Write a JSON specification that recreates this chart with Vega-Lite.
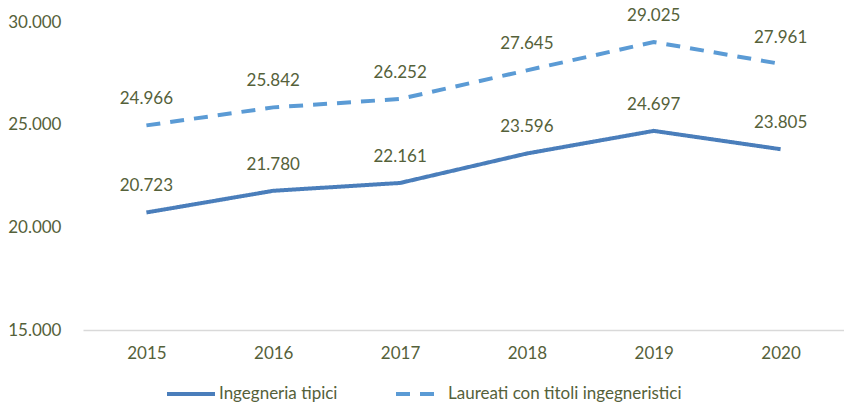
{
  "$schema": "https://vega.github.io/schema/vega-lite/v6.json",
  "width": 761,
  "height": 308,
  "autosize": {"type": "none"},
  "padding": {"left": 83, "top": 22, "right": 0, "bottom": 75},
  "background": "white",
  "config": {
    "font": "Lato",
    "view": {"stroke": null},
    "locale": {
      "number": {"decimal": ",", "thousands": ".", "grouping": [3], "currency": ["", " €"]}
    }
  },
  "data": {
    "values": [
      {"anno": "2015", "serie": "Ingegneria tipici", "valore": 20723},
      {"anno": "2016", "serie": "Ingegneria tipici", "valore": 21780},
      {"anno": "2017", "serie": "Ingegneria tipici", "valore": 22161},
      {"anno": "2018", "serie": "Ingegneria tipici", "valore": 23596},
      {"anno": "2019", "serie": "Ingegneria tipici", "valore": 24697},
      {"anno": "2020", "serie": "Ingegneria tipici", "valore": 23805},
      {"anno": "2015", "serie": "Laureati con titoli ingegneristici", "valore": 24966},
      {"anno": "2016", "serie": "Laureati con titoli ingegneristici", "valore": 25842},
      {"anno": "2017", "serie": "Laureati con titoli ingegneristici", "valore": 26252},
      {"anno": "2018", "serie": "Laureati con titoli ingegneristici", "valore": 27645},
      {"anno": "2019", "serie": "Laureati con titoli ingegneristici", "valore": 29025},
      {"anno": "2020", "serie": "Laureati con titoli ingegneristici", "valore": 27961}
    ]
  },
  "encoding": {
    "x": {
      "field": "anno", "type": "ordinal",
      "scale": {"type": "point", "padding": 0.5},
      "axis": {
        "title": null, "labelAngle": 0, "ticks": false,
        "domainColor": "#d9d9d9", "domainWidth": 1.5,
        "labelColor": "#55613a", "labelFontSize": 17, "labelPadding": 15
      }
    },
    "y": {
      "field": "valore", "type": "quantitative",
      "scale": {"domain": [15000, 30000], "nice": false, "zero": false},
      "axis": {
        "title": null, "grid": false, "domain": false, "ticks": false,
        "values": [15000, 20000, 25000, 30000],
        "format": ",d",
        "labelColor": "#55613a", "labelFontSize": 17, "labelPadding": 22
      }
    }
  },
  "layer": [
    {
      "mark": {"type": "line", "strokeWidth": 4, "strokeCap": "butt"},
      "encoding": {
        "color": {
          "field": "serie", "type": "nominal",
          "scale": {"domain": ["Ingegneria tipici", "Laureati con titoli ingegneristici"], "range": ["#4a7ebb", "#5b9bd5"]},
          "legend": {
            "title": null, "orient": "none", "direction": "horizontal",
            "legendX": 82, "legendY": 346,
            "symbolType": "stroke", "symbolSize": 2304, "symbolStrokeWidth": 4,
            "labelFontSize": 17, "labelColor": "#55613a", "columnPadding": 50,
            "labelOffset": 2, "labelLimit": 400
          }
        },
        "strokeDash": {
          "field": "serie", "type": "nominal",
          "scale": {"domain": ["Ingegneria tipici", "Laureati con titoli ingegneristici"], "range": [[1, 0], [14, 10]]},
          "legend": null
        }
      }
    },
    {
      "mark": {"type": "text", "dy": -26, "fontSize": 17, "color": "#55613a"},
      "encoding": {
        "text": {"field": "valore", "type": "quantitative", "format": ",d"}
      }
    }
  ]
}
